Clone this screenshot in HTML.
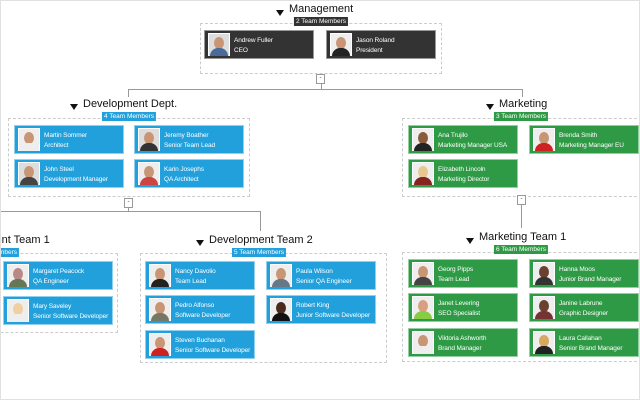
<!DOCTYPE html>
<html><head><meta charset="utf-8"><style>
body{margin:0;width:640px;height:400px;overflow:hidden;background:#fff;font-family:"Liberation Sans",sans-serif;}
#root{position:relative;width:638px;height:398px;border:1px solid #e0e0e0;overflow:hidden;}
.box{position:absolute;border:1px dashed #ccc;box-sizing:border-box;}
.badge{position:absolute;height:9px;line-height:9px;font-size:6.5px;color:#fff;padding:0 2px;transform:translateX(-50%);white-space:nowrap;}
.card{position:absolute;width:110px;height:29px;box-sizing:border-box;border:1px solid rgba(255,255,255,.5);color:#fff;font-size:6.5px;line-height:9.5px;letter-spacing:-0.1px;}
.card .p{position:absolute;left:3px;top:2px;width:22px;height:23px;background:#fff;overflow:hidden;}
.card .p i{position:absolute;left:1px;top:1px;right:1px;bottom:0;background:#ddd;}
.card .p b{position:absolute;left:6px;top:4px;width:10px;height:12px;border-radius:50%;background:#c89575;}
.card .p u{position:absolute;left:2px;top:15px;width:18px;height:10px;border-radius:8px 8px 0 0;background:#444;}
.card .t{position:absolute;left:29px;top:5px;white-space:nowrap;}
.dk{background:#333;}.bl{background:#22a0dc;}.gr{background:#2f9a45;}
.title{position:absolute;font-size:11px;color:#111;white-space:nowrap;}
.tri{position:absolute;width:0;height:0;border-left:4px solid transparent;border-right:4px solid transparent;border-top:6px solid #111;}
.ln{position:absolute;background:#999;}
.btn{position:absolute;width:7px;height:8px;border:1px solid #999;background:#fff;font-size:6px;line-height:7px;text-align:center;color:#333;}
</style></head><body><div id="root">

<div class="ln" style="left:320px;top:82px;width:1px;height:6px"></div>
<div class="ln" style="left:127px;top:88px;width:395px;height:1px"></div>
<div class="ln" style="left:127px;top:88px;width:1px;height:8px"></div>
<div class="ln" style="left:521px;top:88px;width:1px;height:8px"></div>
<div class="ln" style="left:127px;top:206px;width:1px;height:5px"></div>
<div class="ln" style="left:0px;top:210px;width:260px;height:1px"></div>
<div class="ln" style="left:259px;top:210px;width:1px;height:20px"></div>
<div class="ln" style="left:520px;top:203px;width:1px;height:24px"></div>

<div class="tri" style="left:275px;top:9px"></div>
<div class="title" style="left:288px;top:2px">Management</div>
<div class="box" style="left:199px;top:22px;width:242px;height:51px"></div>
<div class="badge dk" style="left:320px;top:16px">2 Team Members</div>
<div class="card dk" style="left:203px;top:29px"><div class="p"><i></i><b></b><u style="background:#4a6a9a"></u></div><div class="t">Andrew Fuller<br>CEO</div></div>
<div class="card dk" style="left:325px;top:29px"><div class="p"><i style="background:#eee"></i><b></b><u style="background:#222"></u></div><div class="t">Jason Roland<br>President</div></div>
<div class="btn" style="left:315px;top:73px">-</div>

<div class="tri" style="left:69px;top:103px"></div>
<div class="title" style="left:82px;top:97px">Development Dept.</div>
<div class="box" style="left:7px;top:117px;width:242px;height:79px"></div>
<div class="badge bl" style="left:128px;top:111px">4 Team Members</div>
<div class="card bl" style="left:13px;top:124px"><div class="p"><i style="background:#eee"></i><b></b><u style="background:#eee"></u></div><div class="t">Martin Sommer<br>Architect</div></div>
<div class="card bl" style="left:133px;top:124px"><div class="p"><i></i><b></b><u style="background:#333"></u></div><div class="t">Jeremy Boather<br>Senior Team Lead</div></div>
<div class="card bl" style="left:13px;top:158px"><div class="p"><i></i><b></b><u></u></div><div class="t">John Steel<br>Development Manager</div></div>
<div class="card bl" style="left:133px;top:158px"><div class="p"><i style="background:#eee"></i><b></b><u style="background:#c44"></u></div><div class="t">Karin Josephs<br>QA Architect</div></div>
<div class="btn" style="left:123px;top:197px">-</div>

<div class="tri" style="left:485px;top:103px"></div>
<div class="title" style="left:498px;top:97px">Marketing</div>
<div class="box" style="left:401px;top:117px;width:245px;height:79px"></div>
<div class="badge gr" style="left:520px;top:111px">3 Team Members</div>
<div class="card gr" style="left:407px;top:124px"><div class="p"><i style="background:#eee"></i><b style="background:#8a5a3a"></b><u style="background:#222"></u></div><div class="t">Ana Trujilo<br>Marketing Manager USA</div></div>
<div class="card gr" style="left:528px;top:124px"><div class="p"><i style="background:#eee"></i><b></b><u style="background:#c22"></u></div><div class="t">Brenda Smith<br>Marketing Manager EU</div></div>
<div class="card gr" style="left:407px;top:158px"><div class="p"><i style="background:#eee"></i><b style="background:#e8c890"></b><u style="background:#822"></u></div><div class="t">Elizabeth Lincoln<br>Marketing Director</div></div>
<div class="btn" style="left:516px;top:194px">-</div>

<div class="title" style="left:-55px;top:233px">Development Team 1</div>
<div class="box" style="left:-130px;top:252px;width:247px;height:80px"></div>
<div class="badge bl" style="left:-9px;top:247px">5 Team Members</div>
<div class="card bl" style="left:2px;top:260px"><div class="p"><i style="background:#eee"></i><b style="background:#b88"></b><u style="background:#675"></u></div><div class="t">Margaret Peacock<br>QA Engineer</div></div>
<div class="card bl" style="left:2px;top:295px"><div class="p"><i style="background:#eee"></i><b style="background:#f0d0a0"></b><u style="background:#eee"></u></div><div class="t">Mary Saveley<br>Senior Software Developer</div></div>

<div class="tri" style="left:195px;top:239px"></div>
<div class="title" style="left:208px;top:233px">Development Team 2</div>
<div class="box" style="left:139px;top:252px;width:247px;height:110px"></div>
<div class="badge bl" style="left:258px;top:247px">5 Team Members</div>
<div class="card bl" style="left:144px;top:260px"><div class="p"><i style="background:#eee"></i><b></b><u style="background:#222"></u></div><div class="t">Nancy Davolio<br>Team Lead</div></div>
<div class="card bl" style="left:265px;top:260px"><div class="p"><i style="background:#eee"></i><b></b><u style="background:#678"></u></div><div class="t">Paula Wilson<br>Senior QA Engineer</div></div>
<div class="card bl" style="left:144px;top:294px"><div class="p"><i style="background:#eee"></i><b></b><u style="background:#776"></u></div><div class="t">Pedro Alfonso<br>Software Developer</div></div>
<div class="card bl" style="left:265px;top:294px"><div class="p"><i style="background:#eee"></i><b style="background:#4a2a1a"></b><u style="background:#111"></u></div><div class="t">Robert King<br>Junior Software Developer</div></div>
<div class="card bl" style="left:144px;top:329px"><div class="p"><i style="background:#eee"></i><b></b><u style="background:#c22"></u></div><div class="t">Steven Buchanan<br>Senior Software Developer</div></div>

<div class="tri" style="left:465px;top:237px"></div>
<div class="title" style="left:478px;top:230px">Marketing Team 1</div>
<div class="box" style="left:401px;top:251px;width:245px;height:110px"></div>
<div class="badge gr" style="left:520px;top:244px">6 Team Members</div>
<div class="card gr" style="left:407px;top:258px"><div class="p"><i style="background:#eee"></i><b></b><u style="background:#444"></u></div><div class="t">Georg Pipps<br>Team Lead</div></div>
<div class="card gr" style="left:528px;top:258px"><div class="p"><i style="background:#eee"></i><b style="background:#6a4030"></b><u style="background:#333"></u></div><div class="t">Hanna Moos<br>Junior Brand Manager</div></div>
<div class="card gr" style="left:407px;top:292px"><div class="p"><i style="background:#eee"></i><b style="background:#d8a080"></b><u style="background:#8c4"></u></div><div class="t">Janet Levering<br>SEO Specialist</div></div>
<div class="card gr" style="left:528px;top:292px"><div class="p"><i style="background:#eee"></i><b style="background:#6a4030"></b><u style="background:#733"></u></div><div class="t">Janine Labrune<br>Graphic Designer</div></div>
<div class="card gr" style="left:407px;top:327px"><div class="p"><i style="background:#eee"></i><b></b><u style="background:#eee"></u></div><div class="t">Viktoria Ashworth<br>Brand Manager</div></div>
<div class="card gr" style="left:528px;top:327px"><div class="p"><i style="background:#eee"></i><b style="background:#d8a860"></b><u style="background:#222"></u></div><div class="t">Laura Callahan<br>Senior Brand Manager</div></div>

</div></body></html>
